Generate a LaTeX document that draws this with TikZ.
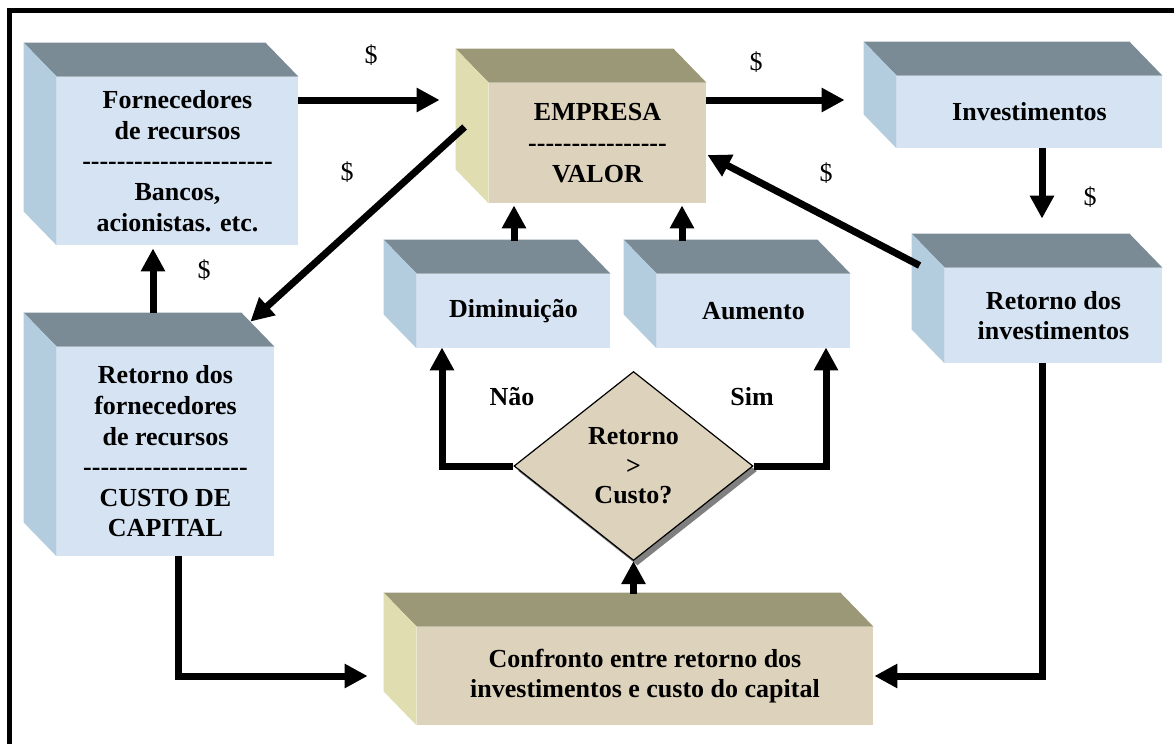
\documentclass[tikz,border=0pt]{standalone}
\usepackage{fontspec}
\setmainfont{Liberation Serif}
\usetikzlibrary{arrows.meta}
\usetikzlibrary{calc}
\usetikzlibrary{shapes.geometric}
\usetikzlibrary{shadows}

\definecolor{azulfrente}{RGB}{213,227,243}
\definecolor{azultopo}{RGB}{122,139,150}
\definecolor{azullado}{RGB}{179,205,223}
\definecolor{begefrente}{RGB}{221,210,188}
\definecolor{begetopo}{RGB}{155,152,120}
\definecolor{begelado}{RGB}{224,221,176}

\newcommand{\tracos}[1]{\foreach \k in {1,...,#1}{-\kern0pt}}

\tikzset{
  caixa/.style={rectangle, fill=#1, inner sep=0pt, align=center,
    font=\fontsize{13}{15.3}\selectfont\bfseries},
  seta/.style={line width=3.5pt, -{Triangle[width=11.5pt,length=11.5pt]}},
  rotulo/.style={font=\fontsize{13}{15.3}\selectfont\bfseries},
  cifrao/.style={font=\fontsize{13}{15.3}\selectfont}
}

\begin{document}
\begin{tikzpicture}[x=0.5pt,y=-0.5pt]
  \useasboundingbox (0,0) rectangle (1174,744);
  \draw[line width=2.5pt] (9.5,760) -- (9.5,10.5) -- (1190,10.5);

  % caixas
  \node[caixa=azulfrente, minimum width=120.5pt, minimum height=84pt] (forn) at (177.5,161)
    {Fornecedores\\de recursos\\\tracos{22}\\Bancos,\\acionistas. etc.};
  \node[caixa=begefrente, minimum width=108.5pt, minimum height=60pt] (empresa) at (597.5,143)
    {EMPRESA\\\tracos{16}\\VALOR};
  \node[caixa=azulfrente, minimum width=132.5pt, minimum height=36pt] (invest) at (1029.5,112)
    {Investimentos};
  \node[caixa=azulfrente, minimum width=108.5pt, minimum height=47.5pt] (retinv) at (1053.5,315.5)
    {Retorno dos\\investimentos};
  \node[caixa=azulfrente, minimum width=108.5pt, minimum height=104.5pt] (retforn) at (165.5,451.5)
    {Retorno dos\\fornecedores\\de recursos\\\tracos{19}\\CUSTO DE\\CAPITAL};
  \node[caixa=azulfrente, minimum width=96.5pt, minimum height=37pt] (dimin) at (513.5,311)
    {Diminuição};
  \node[caixa=azulfrente, minimum width=96.5pt, minimum height=37pt] (aumento) at (753.5,311)
    {Aumento};
  \node[caixa=begefrente, minimum width=228pt, minimum height=49pt] (confronto) at (645,676)
    {Confronto entre retorno dos\\investimentos e custo do capital};

  % faces de cima e do lado
  \foreach \n/\ct/\cl in {forn/azultopo/azullado, empresa/begetopo/begelado,
      invest/azultopo/azullado, retinv/azultopo/azullado, retforn/azultopo/azullado,
      dimin/azultopo/azullado, aumento/azultopo/azullado, confronto/begetopo/begelado}{
    \fill[\ct] (\n.north west) -- ++(-33,-34) -- ($(\n.north east)+(-33,-34)$) -- (\n.north east) -- cycle;
    \fill[\cl] (\n.north west) -- ++(-33,-34) -- ($(\n.south west)+(-33,-34)$) -- (\n.south west) -- cycle;
  }

  % decisao
  \node[diamond, fill=begefrente, draw, line width=0.6pt, minimum width=119.5pt,
    minimum height=94.5pt, inner sep=0pt, align=center,
    font=\fontsize{13}{14.8}\selectfont\bfseries,
    drop shadow={shadow xshift=2pt, shadow yshift=-2.5pt, fill=black!50, opacity=1}]
    (decisao) at (633.5,466) {Retorno\\>\\Custo?};

  % rotulos
  \node[cifrao] (c1) at (371,55) {\$};
  \node[cifrao] (c2) at (756,62) {\$};
  \node[cifrao] (c3) at (347,172) {\$};
  \node[cifrao] (c4) at (826,173) {\$};
  \node[cifrao] (c5) at (1090,197) {\$};
  \node[cifrao] (c6) at (204,270) {\$};
  \node[rotulo] (nao) at (512,397) {Não};
  \node[rotulo] (sim) at (752,397) {Sim};

  % setas
  \draw[seta] ($(forn.east)+(0,-61)$) -- ($(empresa.west)+(-49,-43)$);
  \draw[seta] ($(empresa.east)+(0,-43)$) -- ($(invest.west)+(-52,-12)$);
  \draw[seta] ($(invest.south)+(12.5,0)$) -- ($(retinv.north)+(-11.5,-49)$);
  \draw[seta] ($(retinv.west)+(-25,-50)$) -- ($(empresa.east)+(1,12)$);
  \draw[seta] ($(empresa.west)+(-24,-16)$) -- ($(retforn.north east)+(-24,-25)$);
  \draw[seta] ($(retforn.north)+(-12.5,-34)$) -- ($(forn.south)+(-24.5,3)$);
  \draw[seta] ($(dimin.north)+(0.5,-33)$) -- ($(empresa.south)+(-83.5,2)$);
  \draw[seta] ($(aumento.north)+(-71.5,-33)$) -- ($(empresa.south)+(84.5,2)$);
  \draw[seta] (decisao.west) -| ($(dimin.south)+(-71.5,-1)$);
  \draw[seta] (decisao.east) -| ($(aumento.south)+(72.5,-1)$);
  \draw[seta] ($(confronto.north)+(-11.5,-33)$) -- (decisao.south);
  \draw[seta] ($(retforn.south)+(12.5,0)$) |- ($(confronto.west)+(-49,0)$);
  \draw[seta] ($(retinv.south)+(-11.5,0)$) |- ($(confronto.east)+(1,0)$);
\end{tikzpicture}
\end{document}
